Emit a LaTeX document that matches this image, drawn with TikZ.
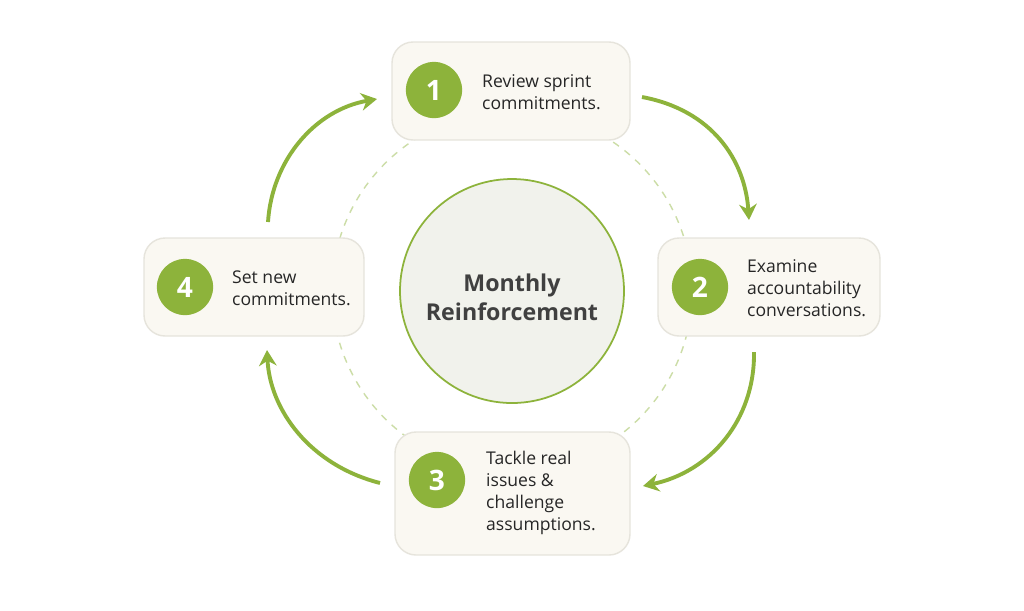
\documentclass[tikz,border=0pt]{standalone}
\usepackage{fontspec}
\setmainfont{Open Sans}
\usetikzlibrary{arrows.meta}
\definecolor{grn}{HTML}{8DB33B}
\definecolor{boxf}{HTML}{FAF8F2}
\definecolor{boxd}{HTML}{E6E4DC}
\definecolor{cirf}{HTML}{F1F2EC}
\tikzset{
 card/.style={draw=boxd,fill=boxf,rounded corners=12pt,line width=0.8pt},
 num/.style={circle,fill=grn,minimum size=32pt,inner sep=0pt,text=white,font=\bfseries\fontsize{16}{16}\selectfont},
 lbl/.style={anchor=west,align=left,text=black!85,font=\fontsize{10}{12.6}\selectfont},
 flow/.style={grn,line width=2.2pt,-{Stealth[length=9pt,width=10pt]}}
}
\begin{document}
\begin{tikzpicture}[x=0.02cm,y=-0.02cm]
\useasboundingbox[fill=white] (0,0) rectangle (1024,610);
\draw[grn!45,dashed,line width=0.8pt,dash pattern=on 4pt off 4pt] (512,291) circle (180);
\node[circle,draw=grn,fill=cirf,line width=1pt,minimum size=224*0.02cm] (c) at (512,291) {};
\node[align=center,font=\bfseries\fontsize{13.2}{16.5}\selectfont,text=black!75] (ct) at (512,297) {Monthly\\Reinforcement};
\draw[card] (392,42) rectangle (630,140);
\draw[card] (658,238) rectangle (880,336);
\draw[card] (395,432) rectangle (630,555);
\draw[card] (144,238) rectangle (364,336);
\node[num] (n1) at (434,90) {1};
\node[num] (n2) at (700,287) {2};
\node[num] (n3) at (437,480) {3};
\node[num] (n4) at (185,287) {4};
\node[lbl] (t1) at (476,92) {Review sprint\\commitments.};
\node[lbl] (t2) at (741,288) {Examine\\accountability\\conversations.};
\node[lbl] (t3) at (480,493) {Tackle real\\issues \&\\challenge\\assumptions.};
\node[lbl] (t4) at (226,288) {Set new\\commitments.};
\coordinate (a1) at (642,97); \coordinate (b1) at (749,220);
\coordinate (a2) at (754,352); \coordinate (b2) at (643,486);
\coordinate (a3) at (380,483); \coordinate (b3) at (267,350);
\coordinate (a4) at (268,222); \coordinate (b4) at (377,99);
\draw[flow] (a1) .. controls (712,110) and (745,160) .. (b1);
\draw[flow] (a2) .. controls (755,420) and (710,472) .. (b2);
\draw[flow] (a3) .. controls (310,465) and (270,410) .. (b3);
\draw[flow] (a4) .. controls (272,160) and (315,110) .. (b4);
\end{tikzpicture}
\end{document}
